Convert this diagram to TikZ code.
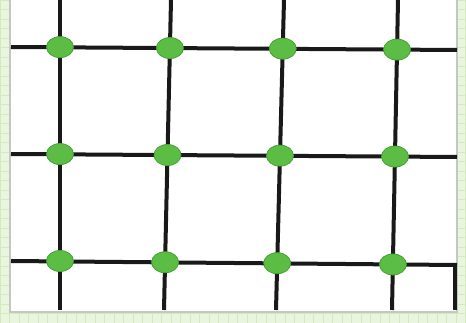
\documentclass[tikz,border=0pt]{standalone}
\usepackage{xcolor}
\definecolor{meshbg}{HTML}{E9F5DF}
\definecolor{meshgrid}{HTML}{D3EABF}
\definecolor{meshframe}{HTML}{C4C8C2}
\definecolor{dotfill}{HTML}{5CBD45}
\definecolor{dotedge}{HTML}{45A035}
\usepackage{tikz}
\usetikzlibrary{shapes.geometric,calc}

\begin{document}
\begin{tikzpicture}[x=1pt,y=-1pt,
  wire/.style={line width=4pt,black!90},
  joint/.style={ellipse,draw=dotedge,line width=0.8pt,fill=dotfill,
    minimum width=27pt,minimum height=21pt,inner sep=0pt}]
% page with its faint grid
\useasboundingbox (0,0) rectangle (466,323);
\fill[meshbg] (0,0) rectangle (466,323);
\draw[meshgrid,line width=0.8pt,step=9.5pt] (0,0) grid (466,323);
\fill[white] (11,0) rectangle (456,312);
\draw[meshframe,line width=1.6pt] (10,0) -- (10,312) -- (457,312) -- (457,0);

% ends of the lines
\foreach \i/\xt/\xb in {1/60/60,2/171/164,3/284/276,4/398/392}{
  \coordinate (top\i) at (\xt,0);
  \coordinate (bot\i) at (\xb,310);
}
\foreach \j/\yl/\yr in {1/47/50,2/154/157,3/261/265}{
  \coordinate (left\j) at (11,\yl);
  \coordinate (right\j) at (457,\yr);
}
\coordinate (corner) at (455,310);

% lines
\foreach \i in {1,...,4}
  \draw[wire] (top\i) -- (bot\i);
\foreach \j in {1,2,3}
  \draw[wire] (left\j) -- (right\j);
\draw[wire,line join=round] ([xshift=-2pt]right3) -- (corner);

% joints
\foreach \i/\fa/\fb/\fc in {1/0.152/0.497/0.842,2/0.155/0.500/0.846,
                            3/0.157/0.502/0.849,4/0.160/0.505/0.853}
  \foreach \j/\f in {1/\fa,2/\fb,3/\fc}
    \node[joint] (dot\i\j) at ($(top\i)!\f!(bot\i)$) {};
\end{tikzpicture}
\end{document}
